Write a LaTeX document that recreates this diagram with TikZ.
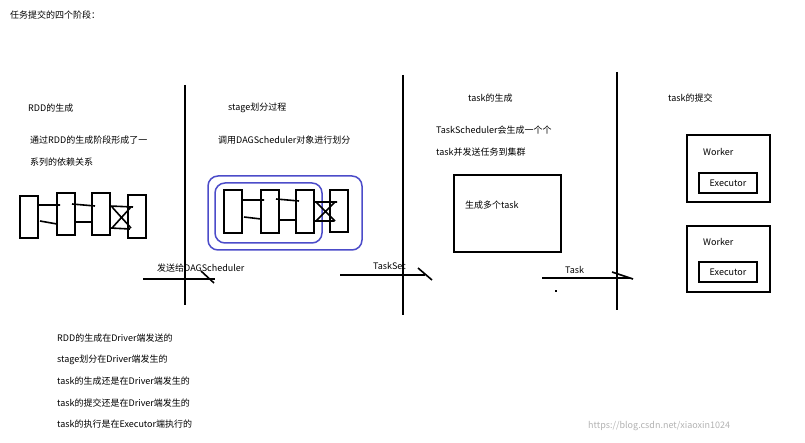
\documentclass[tikz,border=0pt]{standalone}
\usepackage{fontspec}
\setmainfont{Noto Sans CJK SC}
\begin{document}
\begin{tikzpicture}[x=1pt,y=-1pt,
every node/.style={inner sep=0pt,anchor=west,font=\fontsize{9}{10}\selectfont},
rdd_box/.style={draw,line width=2pt},
stage_ring/.style={draw=blue!70!black!70,line width=1.5pt,rounded corners=10pt},
ruler/.style={line width=1.6pt},
wire/.style={line width=1.6pt},
outer_box/.style={draw,line width=1.8pt},
exec_box/.style={draw,line width=1.8pt,minimum width=58pt,minimum height=20pt,anchor=center}]
  \useasboundingbox (0,0) rectangle (805,443);

  \node (title) at (10,15) {任务提交的四个阶段：};

  % stage dividers
  \draw[ruler] (185,85) coordinate (d1t) -- (185,305) coordinate (d1b);
  \draw[ruler] (403,75) coordinate (d2t) -- (403,315) coordinate (d2b);
  \draw[ruler] (617,72) coordinate (d3t) -- (617,310) coordinate (d3b);

  \node (h1) at (28,108) {RDD的生成};
  \node (h2) at (228,108) {stage划分过程};
  \node (h3) at (468,98) {task的生成};
  \node (h4) at (668,98) {task的提交};

  \node (t1a) at (30,140) {通过RDD的生成阶段形成了一};
  \node (t1b) at (30,162) {系列的依赖关系};
  \node (t2a) at (218,140) {调用DAGScheduler对象进行划分};
  \node (t3a) at (436,130) {TaskScheduler会生成一个个};
  \node (t3b) at (436,152) {task并发送任务到集群};

  % RDD chain
  \draw[rdd_box] (20,196) rectangle (38,238);
  \draw[rdd_box] (57,193) rectangle (75,235);
  \draw[rdd_box] (92,193) rectangle (110,235);
  \draw[rdd_box] (128,195) rectangle (146,238);
  \draw[wire] (38,205) -- (60,205) (40,221) -- (57,224);
  \draw[wire] (72,204) -- (95,206) (75,222) -- (92,222);
  \draw[wire] (110,206) -- (133,207) (110,228) -- (130,229)
              (112,228) -- (131,207) (112,207) -- (131,228);

  % stage chain
  \draw[stage_ring] (208,176) rectangle (362,250);
  \draw[stage_ring] (215,183) rectangle (322,243);
  \draw[rdd_box] (224,190) rectangle (242,233);
  \draw[rdd_box] (261,190) rectangle (279,233);
  \draw[rdd_box] (296,190) rectangle (314,233);
  \draw[rdd_box] (330,190) rectangle (348,232);
  \draw[wire] (242,200) -- (264,200) (244,217) -- (261,219);
  \draw[wire] (276,199) -- (299,201) (279,220) -- (296,220);
  \draw[wire] (314,202) -- (337,202) (314,221) -- (334,221)
              (316,221) -- (335,202) (316,202) -- (335,221);

  % hand-offs
  \node (l1) at (157,268) {发送给DAGScheduler};
  \draw[ruler] (143,279) coordinate (a1s) -- (215,279) coordinate (a1e);
  \draw[ruler] (201,271) -- (214,283);
  \node (l2) at (373,266) {TaskSet};
  \draw[ruler] (340,275) coordinate (a2s) -- (425,275) coordinate (a2e);
  \draw[ruler] (418,268) -- (432,280);
  \node (l3) at (565,270) {Task};
  \draw[ruler] (542,278) coordinate (a3s) -- (630,278) coordinate (a3e);
  \draw[ruler] (612,272) -- (633,279);
  \fill (555,290) rectangle (557,292);

  \draw[outer_box] (454,175) rectangle (561,252);
  \node (tasks) at (465,205) {生成多个task};

  % workers
  \draw[outer_box] (687,135) rectangle (770,202);
  \node (w1) at (703,152) {Worker};
  \node[exec_box] (e1) at (728,183) {Executor};
  \draw[outer_box] (687,226) rectangle (770,292);
  \node (w2) at (703,242) {Worker};
  \node[exec_box] (e2) at (728,272) {Executor};

  \node (n1) at (57,338) {RDD的生成在Driver端发送的};
  \node (n2) at (57,360) {stage划分在Driver端发生的};
  \node (n3) at (57,381) {task的生成还是在Driver端发生的};
  \node (n4) at (57,403) {task的提交还是在Driver端发生的};
  \node (n5) at (57,424) {task的执行是在Executor端执行的};

  \node[text=gray!60] (wm) at (588,426) {https://blog.csdn.net/xiaoxin1024};
\end{tikzpicture}
\end{document}
